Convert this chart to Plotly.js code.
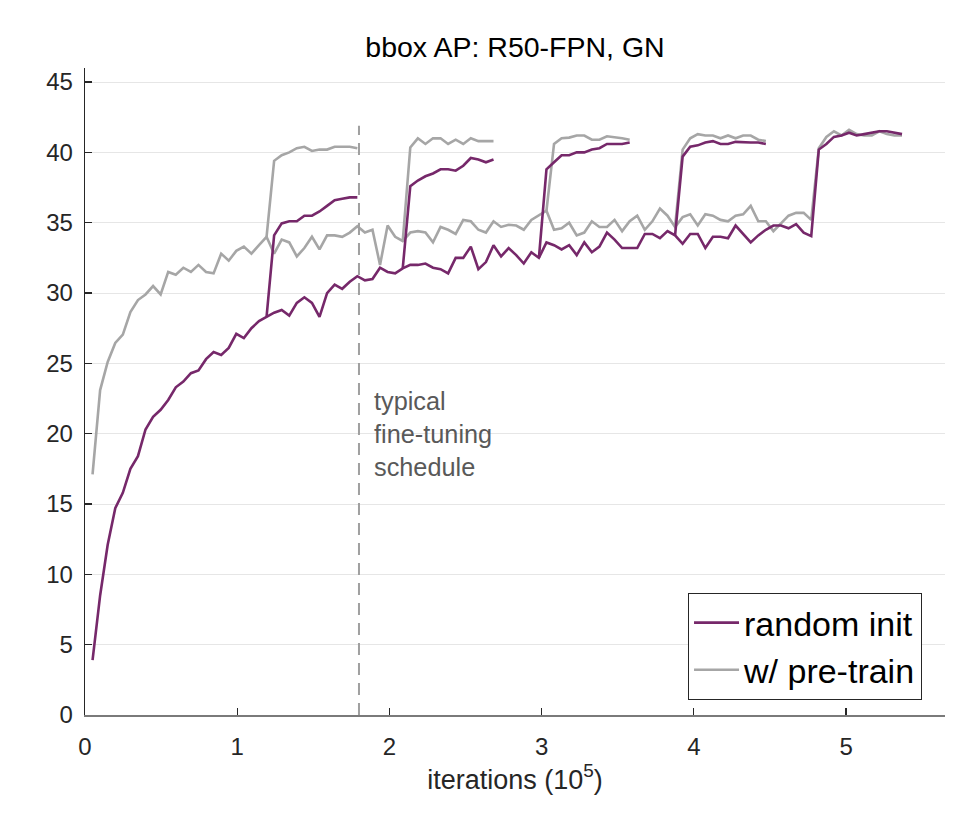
<!DOCTYPE html>
<html>
<head>
<meta charset="utf-8">
<script src="https://cdn.plot.ly/plotly-3.0.1.min.js"></script>
<style>
  html, body { margin: 0; padding: 0; background: #ffffff; }
  #chart { width: 980px; height: 814px; }
</style>
</head>
<body>
<div id="chart"></div>
<script>
// ---- data (x in units of 10^5 iterations; one evaluation per step) ----
const evalStep = 0.0497;

// main training curves, evaluation index 1..108
const randomInitMain = [
  3.9, 8.5, 12.1, 14.7, 15.8, 17.5, 18.4, 20.3, 21.2, 21.7,
  22.4, 23.3, 23.7, 24.3, 24.5, 25.3, 25.8, 25.6, 26.1, 27.1,
  26.8, 27.5, 28.0, 28.3, 28.6, 28.8, 28.4, 29.3, 29.7, 29.3,
  28.3, 30.0, 30.6, 30.3, 30.8, 31.2, 30.9, 31.0, 31.8, 31.5,
  31.4, 31.75, 32.0, 32.0, 32.1, 31.8, 31.7, 31.4, 32.5, 32.5,
  33.3, 31.7, 32.2, 33.4, 32.6, 33.2, 32.7, 32.1, 32.9, 32.5,
  33.6, 33.4, 33.1, 33.4, 32.7, 33.6, 32.9, 33.3, 34.3, 33.8,
  33.2, 33.2, 33.2, 34.2, 34.2, 33.9, 34.4, 34.1, 33.5, 34.2,
  34.2, 33.2, 34.0, 34.0, 33.9, 34.8, 34.2, 33.6, 34.1, 34.5,
  34.8, 34.8, 34.6, 34.9, 34.3, 34.05, 40.2, 40.6, 41.1, 41.2,
  41.4, 41.2, 41.3, 41.4, 41.5, 41.5, 41.4, 41.3
];
const preTrainMain = [
  17.1, 23.1, 25.1, 26.45, 27.05, 28.65, 29.5, 29.9, 30.5, 29.9,
  31.5, 31.3, 31.8, 31.5, 32.0, 31.5, 31.4, 32.8, 32.3, 33.0,
  33.3, 32.8, 33.4, 34.0, 32.8, 33.8, 33.6, 32.6, 33.2, 34.0,
  33.1, 34.1, 34.1, 34.0, 34.3, 34.75, 34.3, 34.5, 32.0, 34.8,
  34.0, 33.7, 34.3, 34.4, 34.3, 33.6, 34.7, 34.5, 34.2, 35.2,
  35.1, 34.5, 34.3, 35.1, 34.7, 34.85, 34.8, 34.5, 35.2, 35.5,
  35.85, 34.5, 34.6, 35.0, 34.1, 34.3, 35.1, 34.7, 34.7, 35.2,
  34.4, 35.1, 35.5, 34.5, 35.1, 36.0, 35.5, 34.7, 35.4, 35.6,
  34.8, 35.6, 35.5, 35.2, 35.1, 35.5, 35.6, 36.2, 35.1, 35.1,
  34.4, 34.95, 35.5, 35.7, 35.7, 35.2, 40.3, 41.1, 41.5, 41.2,
  41.6, 41.3, 41.2, 41.2, 41.5, 41.3, 41.2, 41.2
];

// shorter schedules: branch from the main curve at a given evaluation index
const randomBranchStarts = [24, 42, 60, 78];
const randomBranch1 = [34.1, 34.95, 35.1, 35.1, 35.5, 35.5, 35.8, 36.2, 36.6, 36.7, 36.8, 36.8];
const randomBranch2 = [37.6, 38.0, 38.3, 38.5, 38.8, 38.8, 38.7, 39.05, 39.6, 39.5, 39.3, 39.5];
const randomBranch3 = [38.8, 39.3, 39.8, 39.8, 40.0, 40.0, 40.2, 40.3, 40.6, 40.6, 40.6, 40.7];
const randomBranch4 = [39.7, 40.4, 40.5, 40.7, 40.8, 40.6, 40.6, 40.75, 40.7, 40.7, 40.7, 40.6];

const preTrainBranchStarts = [24, 42, 61, 78];
const preTrainBranch1 = [39.4, 39.8, 40.0, 40.3, 40.4, 40.1, 40.2, 40.2, 40.4, 40.4, 40.4, 40.3];
const preTrainBranch2 = [40.35, 41.0, 40.6, 41.0, 41.0, 40.6, 40.9, 40.6, 41.0, 40.8, 40.8, 40.8];
const preTrainBranch3 = [40.6, 41.0, 41.05, 41.2, 41.2, 40.9, 40.9, 41.15, 41.1, 41.0, 40.9];
const preTrainBranch4 = [40.2, 41.0, 41.3, 41.2, 41.2, 41.0, 41.2, 41.0, 41.2, 41.2, 40.9, 40.8];

const seriesNames = ['random init', 'w/ pre-train'];
const xTickVals = [0, 1, 2, 3, 4, 5];
const yTickVals = [0, 5, 10, 15, 20, 25, 30, 35, 40, 45];
const fineTuneEnd = 1.8;     // typical fine-tuning schedule (x)
const fineTuneTop = 41.9;    // top of the dashed marker (AP)
const annotationText = 'typical<br>fine-tuning<br>schedule';

// ---- styling ----
const purple = '#76286a';
const gray = '#a6a6a6';
const lw = 2.6;
const FONT = 'Liberation Sans, Arial, Helvetica, sans-serif';

function xsFrom(startIndex, n) {
  const out = [];
  for (let i = 0; i < n; i++) out.push((startIndex + i) * evalStep);
  return out;
}
function mainTrace(values, name, color, rank) {
  return {
    type: 'scatter', mode: 'lines', name: name, legendgroup: name, legendrank: rank,
    x: xsFrom(1, values.length), y: values,
    line: { color: color, width: lw }, hoverinfo: 'skip'
  };
}
function branchTrace(main, start, values, name, color) {
  const ys = [main[start - 1]].concat(values);
  return {
    type: 'scatter', mode: 'lines', name: name, legendgroup: name, showlegend: false,
    x: xsFrom(start, ys.length), y: ys,
    line: { color: color, width: lw }, hoverinfo: 'skip'
  };
}

const randomBranches = [randomBranch1, randomBranch2, randomBranch3, randomBranch4];
const preTrainBranches = [preTrainBranch1, preTrainBranch2, preTrainBranch3, preTrainBranch4];

const traces = [];
traces.push(mainTrace(preTrainMain, seriesNames[1], gray, 2));
traces.push(mainTrace(randomInitMain, seriesNames[0], purple, 1));
preTrainBranches.forEach((b, i) => traces.push(branchTrace(preTrainMain, preTrainBranchStarts[i], b, seriesNames[1], gray)));
randomBranches.forEach((b, i) => traces.push(branchTrace(randomInitMain, randomBranchStarts[i], b, seriesNames[0], purple)));

const layout = {
  width: 980, height: 814,
  margin: { l: 85, r: 35, t: 68, b: 99, pad: 0 },
  paper_bgcolor: '#ffffff', plot_bgcolor: '#ffffff',
  font: { family: FONT, color: '#262626' },
  title: {
    text: 'bbox AP: R50-FPN, GN',
    font: { family: FONT, size: 28.5, color: '#000000' },
    x: 0.5, xref: 'paper', xanchor: 'center',
    y: 1 - 47 / 814, yref: 'container', yanchor: 'middle'
  },
  xaxis: {
    range: [0, 5.65], tickmode: 'array', tickvals: xTickVals, ticktext: xTickVals.map(String),
    ticks: 'inside', ticklen: 7, tickwidth: 1.3, tickcolor: '#262626',
    showline: true, linecolor: '#7a7a7a', linewidth: 1.5,
    showgrid: false, zeroline: false, automargin: false,
    tickfont: { family: FONT, size: 24, color: '#262626' },
    ticklabelstandoff: 10,
    title: { text: 'iterations (10<sup>5</sup>)', font: { family: FONT, size: 27, color: '#262626' }, standoff: 8 }
  },
  yaxis: {
    range: [0, 46], tickmode: 'array', tickvals: yTickVals, ticktext: yTickVals.map(String),
    ticks: 'inside', ticklen: 7, tickwidth: 1.3, tickcolor: '#262626',
    showline: true, linecolor: '#262626', linewidth: 1.3,
    showgrid: true, gridcolor: '#e6e6e6', gridwidth: 1, zeroline: false, automargin: false,
    tickfont: { family: FONT, size: 24, color: '#262626' },
    ticklabelstandoff: 6
  },
  showlegend: true,
  legend: {
    x: 0.7012, y: 0.0232, xanchor: 'left', yanchor: 'bottom',
    bordercolor: '#262626', borderwidth: 1, bgcolor: '#ffffff',
    font: { family: FONT, size: 34, color: '#000000' },
    itemwidth: 45, tracegroupgap: 0
  },
  shapes: [{
    type: 'line', xref: 'x', yref: 'y',
    x0: fineTuneEnd, x1: fineTuneEnd, y0: 0, y1: fineTuneTop,
    line: { color: '#a0a0a0', width: 2, dash: '12px,8px' }
  }],
  annotations: [{
    text: annotationText, xref: 'x', yref: 'y',
    x: 1.885, y: 19.95, xanchor: 'left', yanchor: 'middle', align: 'left',
    showarrow: false, font: { family: FONT, size: 25.3, color: '#595959' }
  }]
};

Plotly.newPlot('chart', traces, layout, { displayModeBar: false, staticPlot: true });
</script>
</body>
</html>
